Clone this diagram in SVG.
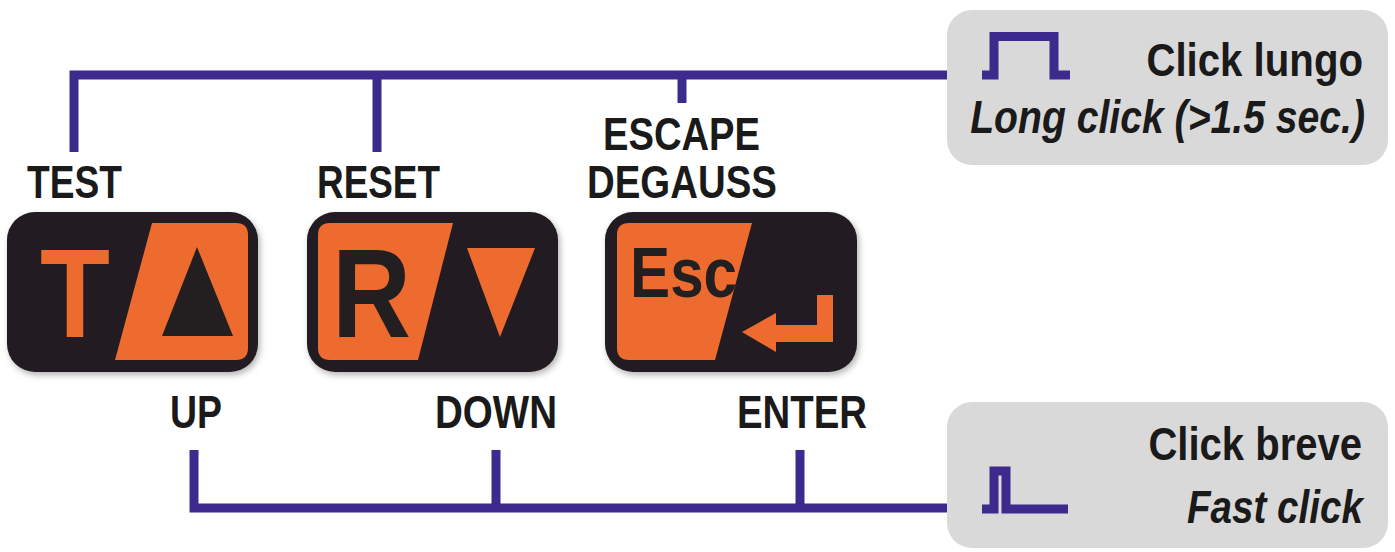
<svg xmlns="http://www.w3.org/2000/svg" width="1395" height="552" viewBox="0 0 1395 552">
  <defs>
    <filter id="sh" x="-10%" y="-10%" width="120%" height="125%">
      <feDropShadow dx="2" dy="3" stdDeviation="3" flood-color="#000" flood-opacity="0.3"/>
    </filter>
  </defs>
  <style>
    .lbl { font-family: "Liberation Sans", Arial, sans-serif; font-weight: bold; font-size: 46px; fill: #1a1a1a; }
    .it { font-style: italic; }
    .wire { fill: none; stroke: #3c2a8c; stroke-width: 9; stroke-linejoin: miter; stroke-linecap: butt; }
    .box { fill: #d9d9d9; }
    .key { fill: #231f20; }
    .or { fill: #ee6b2f; }
    .glyph { font-family: "Liberation Sans", Arial, sans-serif; font-weight: bold; }
  </style>
  <rect width="1395" height="552" fill="#ffffff"/>

  <g id="long-click">
    <rect class="box" x="947" y="10" width="441" height="155" rx="25"/>
    <path class="wire" d="M982,75 H994 V36.5 H1054 V75 H1070"/>
    <text class="lbl" font-size="45" text-anchor="end" transform="translate(1363,76) scale(0.874,1)">Click lungo</text>
    <text class="lbl it" text-anchor="end" transform="translate(1365,133) scale(0.851,1)">Long click (&gt;1.5 sec.)</text>
  </g>

  <g id="fast-click">
    <rect class="box" x="947" y="402" width="441" height="146" rx="25"/>
    <path class="wire" d="M982,509 H994 V471 H1006 V509 H1068"/>
    <text class="lbl" font-size="45" text-anchor="end" transform="translate(1362,460) scale(0.87,1)">Click breve</text>
    <text class="lbl it" text-anchor="end" transform="translate(1363,523) scale(0.84,1)">Fast click</text>
  </g>

  <g id="connectors">
    <path class="wire" d="M74,152 V75 H947"/>
    <path class="wire" d="M377,75 V152"/>
    <path class="wire" d="M682,75 V103"/>
    <path class="wire" d="M194,450 V508 H947"/>
    <path class="wire" d="M496,450 V508"/>
    <path class="wire" d="M800,450 V508"/>
  </g>

  <g id="labels">
    <text class="lbl" transform="translate(27,198) scale(0.808,1)">TEST</text>
    <text class="lbl" transform="translate(317,198) scale(0.802,1)">RESET</text>
    <text class="lbl" transform="translate(603,150) scale(0.83,1)">ESCAPE</text>
    <text class="lbl" transform="translate(587,198) scale(0.835,1)">DEGAUSS</text>
    <text class="lbl" transform="translate(170,428) scale(0.814,1)">UP</text>
    <text class="lbl" transform="translate(435,428) scale(0.838,1)">DOWN</text>
    <text class="lbl" transform="translate(737,428) scale(0.834,1)">ENTER</text>
  </g>

  <g id="key-test-up">
    <rect class="key" x="7" y="212" width="251" height="160" rx="28" filter="url(#sh)"/>
    <path class="or" d="M152,223 H236 Q248,223 248,235 V348 Q248,360 236,360 H115 Z"/>
    <polygon class="key" points="197,247 162,336 233,336"/>
    <text class="glyph or" font-size="126" transform="translate(40,337) scale(0.909,1)">T</text>
  </g>

  <g id="key-reset-down">
    <rect class="key" x="307" y="212" width="251" height="160" rx="28" filter="url(#sh)"/>
    <path class="or" d="M330,223 H453 L418,360 H330 Q318,360 318,348 V235 Q318,223 330,223 Z"/>
    <text class="glyph" fill="#231f20" font-size="126" transform="translate(332,337) scale(0.868,1)">R</text>
    <polygon class="or" points="467,248 535,248 500,337"/>
  </g>

  <g id="key-esc-enter">
    <rect class="key" x="605" y="212" width="252" height="160" rx="28" filter="url(#sh)"/>
    <path class="or" d="M629,223 H752 L715,360 H629 Q617,360 617,348 V235 Q617,223 629,223 Z"/>
    <text class="glyph" fill="#231f20" font-size="70" transform="translate(630,297) scale(0.86,1)">Esc</text>
    <polygon class="or" points="742,332 776,313 776,325 817,325 817,295 833,295 833,342 776,342 776,352"/>
  </g>
</svg>
